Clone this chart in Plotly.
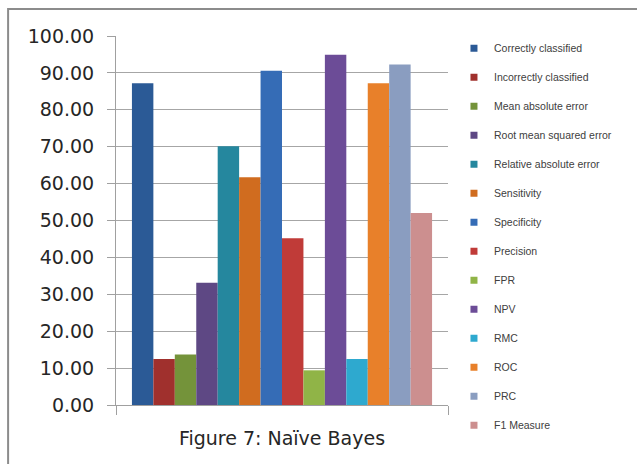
import plotly.graph_objects as go

# Naïve Bayes evaluation metrics (percent scale)
metrics = [
    "Correctly classified", "Incorrectly classified", "Mean absolute error",
    "Root mean squared error", "Relative absolute error", "Sensitivity",
    "Specificity", "Precision", "FPR", "NPV", "RMC", "ROC", "PRC", "F1 Measure",
]
values = [87.2, 12.5, 13.7, 33.1, 70.1, 61.7, 90.6, 45.2, 9.4, 94.9, 12.5, 87.2, 92.3, 52.0]
colors = [
    "#2B5A96", "#A0302D", "#74933A", "#5E4884", "#25879E", "#D06C1F", "#356CB6",
    "#C03B38", "#90B447", "#6C4C97", "#2EA9CF", "#E8802A", "#8A9DC0", "#CC8F8F",
]
classifier = ["Naïve Bayes"]
y_ticks = [0, 10, 20, 30, 40, 50, 60, 70, 80, 90, 100]

fig = go.Figure()

for name, val, col in zip(metrics, values, colors):
    fig.add_trace(go.Bar(
        x=classifier, y=[val], name=name,
        marker=dict(color=col, line=dict(width=0)),
        showlegend=False,
    ))
    # small square legend swatch
    fig.add_trace(go.Scatter(
        x=[None], y=[None], mode="markers", name=name, legendgroup=name,
        marker=dict(symbol="square", size=7, color=col),
    ))

fig.update_layout(
    width=637, height=464,
    margin=dict(l=116, r=189, t=36, b=59),
    paper_bgcolor="white", plot_bgcolor="white",
    barmode="group", bargap=0.096, bargroupgap=0,
    font=dict(family="DejaVu Sans", color="#262626"),
    legend=dict(
        x=1.018, xanchor="left", y=1.006, yanchor="top",
        font=dict(family="Liberation Sans", size=10.5, color="#404040"),
        tracegroupgap=10, bgcolor="rgba(0,0,0,0)", maxheight=700,
    ),
    shapes=[dict(
        type="rect", xref="paper", yref="paper",
        x0=-0.325, x1=2.0, y0=-1.0, y1=1.073,
        line=dict(color="#8C8C8C", width=2), layer="below",
    )],
)

fig.update_yaxes(
    range=[0, 100], tickvals=y_ticks, tickformat=".2f",
    ticks="outside", ticklen=8, tickcolor="#A0A0A0",
    showgrid=True, gridcolor="#A6A6A6", gridwidth=1,
    showline=True, linecolor="#A0A0A0", linewidth=1,
    zeroline=False, ticklabelstandoff=9,
    tickfont=dict(family="DejaVu Sans", size=19, color="#262626"),
)
fig.update_xaxes(
    showticklabels=False, ticks="outside", tickson="boundaries",
    ticklen=9, tickcolor="#A0A0A0",
    showline=True, linecolor="#A0A0A0", linewidth=1,
    title=dict(text="Figure 7: Naïve Bayes", standoff=26,
               font=dict(family="DejaVu Sans", size=19, color="#262626")),
)

fig.write_html("out.html")
